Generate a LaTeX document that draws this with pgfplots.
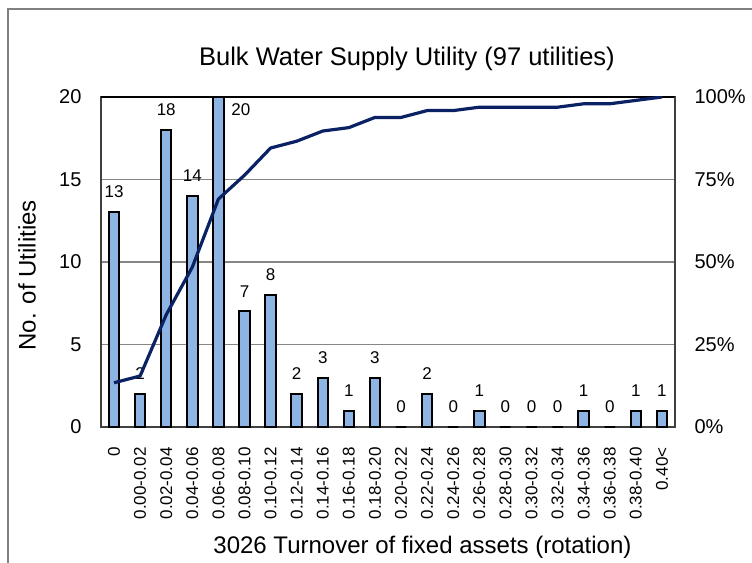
\documentclass[border=0pt]{standalone}
\usepackage{pgfplots}
\pgfplotsset{compat=1.18}
\usepackage{fontspec}
\setmainfont{Liberation Sans}
\definecolor{barblue}{RGB}{142,180,227}
\definecolor{navy}{RGB}{10,34,100}
\definecolor{gridgray}{RGB}{134,134,134}
\definecolor{spine}{RGB}{64,64,64}
\begin{document}
\begin{tikzpicture}
\useasboundingbox (0,0) rectangle (752pt,562pt);
\draw[gray, line width=1.2pt] (8pt,-10pt) -- (8pt,553pt) -- (800pt,553pt);
\begin{axis}[
  at={(101pt,135pt)}, anchor=south west,
  scale only axis, width=574pt, height=330pt,
  xmin=-0.5, xmax=21.5, ymin=0, ymax=20,
  clip=false,
  axis line style={spine, line width=1.5pt},
  ytick={0,5,10,15,20},
  ymajorgrids, grid style={gridgray, line width=1.2pt},
  major tick length=0pt,
  xtick={0,...,21},
  xticklabels={0,0.00-0.02,0.02-0.04,0.04-0.06,0.06-0.08,0.08-0.10,0.10-0.12,0.12-0.14,0.14-0.16,0.16-0.18,0.18-0.20,0.20-0.22,0.22-0.24,0.24-0.26,0.26-0.28,0.28-0.30,0.30-0.32,0.32-0.34,0.34-0.36,0.36-0.38,0.38-0.40,0.40<},
  xticklabel style={rotate=90, anchor=east, font=\fontsize{17}{20}\selectfont},
  xticklabel shift=17pt,
  yticklabel style={font=\fontsize{20}{24}\selectfont},
  yticklabel shift=16pt,
  /pgf/number format/assume math mode=true,
  title={Bulk Water Supply Utility (97 utilities)},
  title style={at={(axis description cs:0.533,1.097)}, anchor=center, font=\fontsize{25.5}{30}\selectfont},
  ylabel={No. of Utilities},
  ylabel style={at={(axis description cs:-0.129,0.46)}, anchor=center, font=\fontsize{24}{28}\selectfont},
  xlabel={3026 Turnover of fixed assets (rotation)},
  xlabel style={at={(axis description cs:0.56,-0.364)}, anchor=center, font=\fontsize{24}{28}\selectfont},
]
\addplot[ybar, bar width=10.5pt, bar shift=0pt, fill=barblue, draw=black, line width=2pt,
  nodes near coords, nodes near coords style={font=\fontsize{17}{20}\selectfont, black, anchor=south, yshift=10pt}]
  coordinates {(0,13) (1,2) (2,18) (3,14) (5,7) (6,8) (7,2) (8,3) (9,1) (10,3) (11,0) (12,2) (13,0) (14,1) (15,0) (16,0) (17,0) (18,1) (19,0) (20,1) (21,1)};
\addplot[ybar, bar width=10.5pt, bar shift=0pt, fill=barblue, draw=black, line width=2pt,
  nodes near coords, nodes near coords style={font=\fontsize{17}{20}\selectfont, black, anchor=north west, inner sep=0pt, xshift=12pt, yshift=-6pt}]
  coordinates {(4,20)};
\draw[black, line width=2.2pt] (rel axis cs:0,1) -- (rel axis cs:1,1);
\end{axis}
\begin{axis}[
  at={(101pt,135pt)}, anchor=south west,
  scale only axis, width=574pt, height=330pt,
  xmin=-0.5, xmax=21.5, ymin=0, ymax=1,
  axis x line=none, axis y line*=right,
  axis line style={spine, line width=1.5pt},
  major tick length=0pt,
  ytick={0,0.25,0.5,0.75,1},
  yticklabels={0\%,25\%,50\%,75\%,100\%},
  yticklabel style={font=\fontsize{20}{24}\selectfont},
  yticklabel shift=16pt,
]
\addplot[navy, line width=3.2pt, line join=round] coordinates {
(0,0.1340) (1,0.1546) (2,0.3402) (3,0.4845) (4,0.6907) (5,0.7629) (6,0.8454) (7,0.8660) (8,0.8969) (9,0.9072) (10,0.9381) (11,0.9381) (12,0.9588) (13,0.9588) (14,0.9691) (15,0.9691) (16,0.9691) (17,0.9691) (18,0.9794) (19,0.9794) (20,0.9897) (21,1.0)};
\end{axis}
\end{tikzpicture}
\end{document}
